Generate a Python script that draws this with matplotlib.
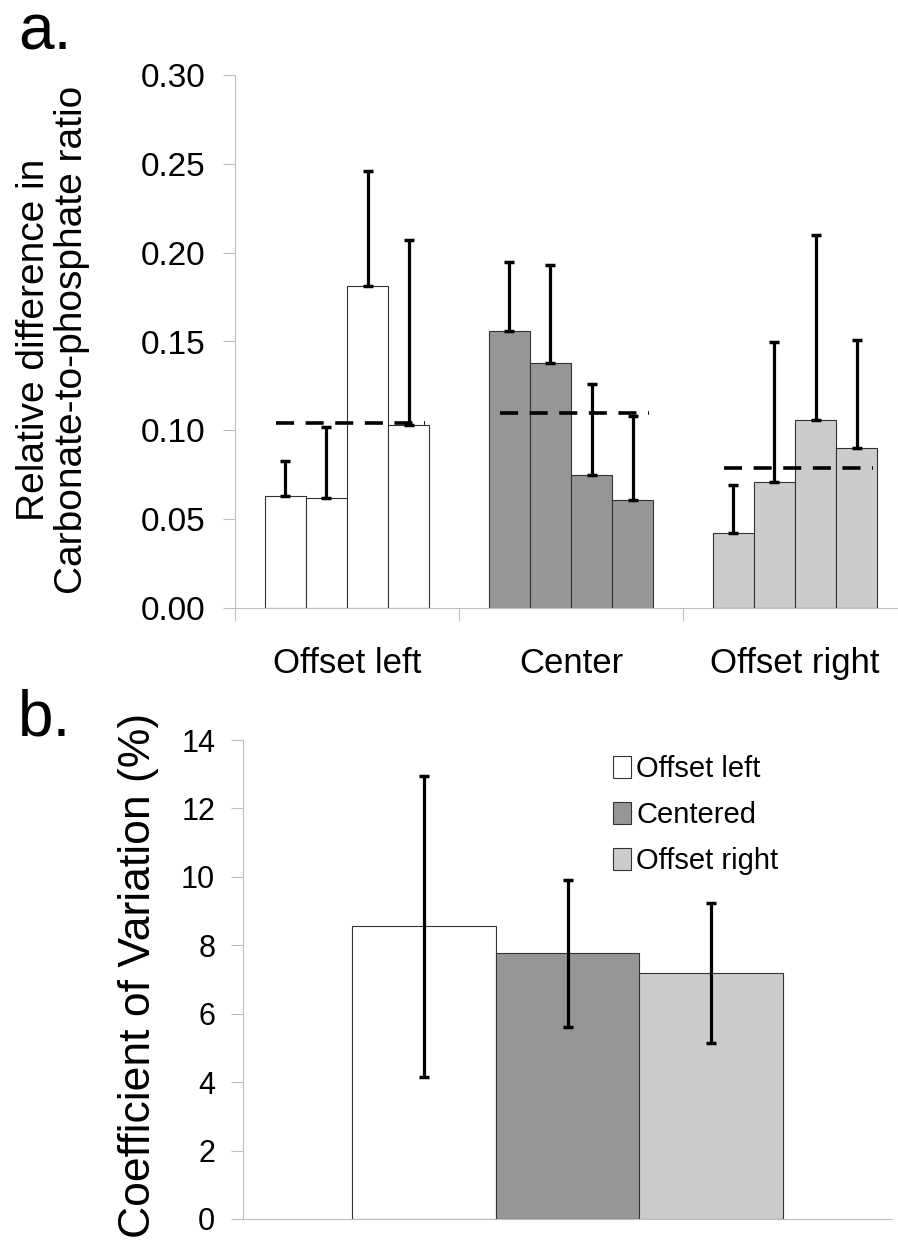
import matplotlib
matplotlib.use("Agg")
import matplotlib.pyplot as plt
import numpy as np

plt.rcParams['font.family'] = ['Liberation Sans', 'DejaVu Sans']

# panel a: relative difference in carbonate-to-phosphate ratio
positions = ["Offset left", "Center", "Offset right"]
ratio_vals = [
    [0.063, 0.062, 0.181, 0.103],
    [0.156, 0.138, 0.075, 0.061],
    [0.042, 0.071, 0.106, 0.090],
]
ratio_err = [
    [0.020, 0.040, 0.065, 0.104],
    [0.039, 0.055, 0.051, 0.047],
    [0.027, 0.079, 0.104, 0.061],
]
ratio_means = [0.104, 0.110, 0.079]

# panel b: coefficient of variation
cv_labels = ["Offset left", "Centered", "Offset right"]
cv_vals = [8.56, 7.76, 7.19]
cv_err = [4.40, 2.15, 2.05]

colors = ["#ffffff", "#969696", "#cccccc"]
edge = "#333333"
axis_gray = "#bdbdbd"

W, H = 898, 1242
fig = plt.figure(figsize=(W / 100, H / 100), dpi=100)

# ---- panel a ----
ax1 = fig.add_axes([235 / W, 1 - 608 / H, (907 - 235) / W, (608 - 75) / H])
bw = 0.184
for i, grp in enumerate(ratio_vals):
    start = i + (1 - 4 * bw) / 2
    xs = start + bw * (np.arange(4) + 0.5)
    ax1.bar(xs, grp, width=bw, color=colors[i], edgecolor=edge, linewidth=0.8, zorder=2)
    ax1.errorbar(xs, grp, yerr=[np.zeros(4), ratio_err[i]], fmt="none", ecolor="black",
                 elinewidth=2.3, capsize=3.5, capthick=2.5, zorder=3)
    ax1.plot([start + 0.05, start + 4 * bw - 0.02], [ratio_means[i]] * 2, color="black",
             linewidth=2.6, linestyle=(0, (5, 3.2)), zorder=4)

ax1.set_xlim(0, 3)
ax1.set_ylim(0, 0.30)
ax1.set_yticks(np.arange(0, 0.301, 0.05))
ax1.set_yticklabels(["%.2f" % v for v in np.arange(0, 0.301, 0.05)])
ax1.set_xticks([0, 1, 2, 3])
ax1.set_xticklabels([])
ax1.set_xticks([0.5, 1.5, 2.5], minor=True)
ax1.set_xticklabels(positions, minor=True, fontsize=25)
ax1.tick_params(axis="x", which="minor", length=0, pad=28)
ax1.tick_params(axis="x", which="major", length=9, color=axis_gray, width=0.8)
ax1.tick_params(axis="y", length=9, color=axis_gray, width=0.8, labelsize=24, pad=12)
for s in ["top", "right"]:
    ax1.spines[s].set_visible(False)
for s in ["left", "bottom"]:
    ax1.spines[s].set_color(axis_gray)
    ax1.spines[s].set_linewidth(0.8)

fig.text(53 / W, 1 - 340 / H, "Relative difference in\nCarbonate-to-phosphate ratio",
         rotation=90, ha="center", va="center", fontsize=28, linespacing=1.08)
fig.text(18 / W, 1 - 50 / H, "a.", fontsize=46, ha="left", va="baseline")

# ---- panel b ----
ax2 = fig.add_axes([243 / W, 1 - 1219 / H, (892 - 243) / W, (1219 - 740) / H])
bw2 = 0.221
xs2 = 0.5 + bw2 * (np.arange(3) - 1)
for j in range(3):
    ax2.bar(xs2[j], cv_vals[j], width=bw2, color=colors[j], edgecolor=edge,
            linewidth=0.8, label=cv_labels[j], zorder=2)
ax2.errorbar(xs2, cv_vals, yerr=cv_err, fmt="none", ecolor="black",
             elinewidth=2.3, capsize=3.5, capthick=2.5, zorder=3)
ax2.set_xlim(0, 1)
ax2.set_ylim(0, 14)
ax2.set_yticks(range(0, 15, 2))
ax2.set_xticks([])
ax2.tick_params(axis="y", length=9, color=axis_gray, width=0.8, labelsize=22, pad=11)
for s in ["top", "right"]:
    ax2.spines[s].set_visible(False)
for s in ["left", "bottom"]:
    ax2.spines[s].set_color(axis_gray)
    ax2.spines[s].set_linewidth(0.8)

ax2.legend(loc="upper left", bbox_to_anchor=(613 / W, 1 - 755 / H),
           bbox_transform=fig.transFigure, frameon=False, fontsize=21,
           handlelength=0.6, handleheight=0.75, handletextpad=0.2,
           labelspacing=0.62, borderpad=0, borderaxespad=0)

fig.text(139 / W, 1 - 975 / H, "Coefficient of Variation (%)", rotation=90,
         ha="center", va="center", fontsize=32)
fig.text(18 / W, 1 - 735 / H, "b.", fontsize=46, ha="left", va="baseline")

fig.savefig("out.png", dpi=100)
